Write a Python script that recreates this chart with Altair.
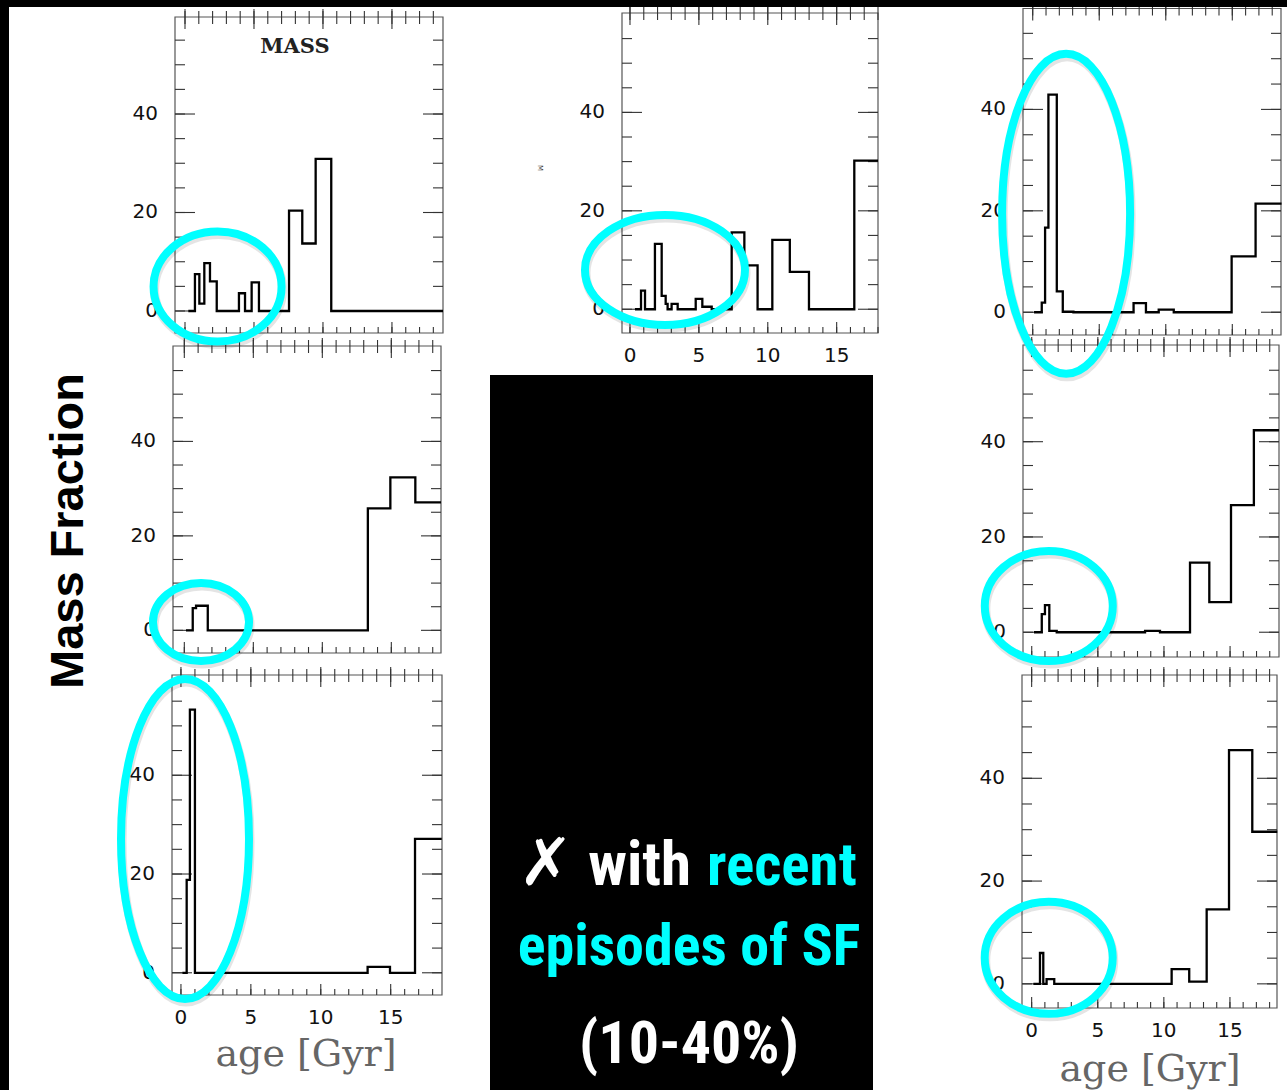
import altair as alt
import pandas as pd

# ---------------------------------------------------------------
# Star-formation histories: bin edges (age, Gyr) and the mass
# fraction (%) formed in each bin, one pair of arrays per galaxy.
# ---------------------------------------------------------------
tl_edges = [0.24, 0.72, 1.04, 1.4, 1.81, 2.3, 3.91, 4.35, 4.83, 5.36, 7.54, 8.5, 9.47, 10.6, 18.7]
tl_mass = [0, 7.5, 1.5, 9.7, 6.0, 0, 3.6, 0, 5.8, 0, 20.4, 13.7, 30.9, 0]

tm_edges = [0.36, 0.8, 1.09, 1.81, 2.3, 2.59, 2.73, 3.02, 3.46, 4.77, 5.25, 5.93, 7.38, 8.3,
            9.26, 10.33, 11.6, 12.99, 16.28, 18.0]
tm_mass = [0, 3.8, 0, 13.3, 2.7, 1.1, 0, 1.1, 0, 2.1, 0.5, 0, 15.6, 8.9, 0, 14.1, 7.6, 0, 30.2]

tr_edges = [0.1, 0.68, 0.93, 1.18, 1.81, 2.26, 3.06, 7.58, 8.51, 9.47, 10.6, 14.95, 16.75, 18.7]
tr_mass = [0, 1.9, 16.7, 42.9, 4.1, 0.1, 0, 1.8, 0, 0.5, 0, 11.0, 21.4]

ml_edges = [0.12, 0.61, 0.85, 1.7, 13.3, 14.93, 16.74, 18.6]
ml_mass = [0, 4.7, 5.2, 0, 25.8, 32.4, 27.1]

mr_edges = [0.17, 0.76, 1.0, 1.33, 1.89, 8.57, 9.7, 11.97, 13.43, 15.07, 16.8, 18.7]
mr_mass = [0, 3.8, 5.7, 0.3, 0, 0.3, 0, 14.6, 6.3, 26.7, 42.4]

bl_edges = [0.1, 0.41, 0.64, 1.0, 13.35, 14.95, 16.74, 18.65]
bl_mass = [0, 18.8, 53.3, 0, 1.2, 0, 27.1]

br_edges = [0.13, 0.63, 0.88, 1.13, 1.71, 10.59, 11.92, 13.24, 14.93, 16.69, 18.58]
br_mass = [0, 6.0, 0, 0.9, 0, 2.85, 0.45, 14.5, 45.5, 29.6]

# axis ticks and labels
x_minor_ticks = list(range(0, 19))
x_major_ticks = [0, 5, 10, 15]
y_minor_ticks = list(range(0, 60, 5))
y_major_ticks = [0, 20, 40]

# highlighted regions: centre (age, mass fraction) and half-axes in px
hl_top_left = (2.36, 4.97, 64, 55)
hl_top_mid = (2.54, 7.98, 80, 55)
hl_top_right = (2.51, 19.4, 64, 160)
hl_mid_left = (1.21, 1.76, 48, 39)
hl_mid_right = (1.29, 5.5, 64, 55)
hl_bot_left = (0.29, 27.1, 64, 160)
hl_bot_right = (1.29, 5.06, 64, 56)

# texts
y_title = "Mass Fraction"
x_title = "age [Gyr]"
panel_title = "MASS"
note_mark = "\u2717"
note_white = "with"
note_cyan = "recent"
note_line2 = "episodes of SF"
note_line3 = "(10-40%)"

CYAN = "#00FFFF"
INK = "#111111"
FRAME = "#555555"
LABEL_FONT = "DejaVu Sans"
NOTE_FONT = "Noto Sans Condensed, Roboto Condensed, DejaVu Sans Condensed, sans-serif"

one_row = pd.DataFrame({"k": [0]})

# panel placement on the page (pixel ranges) and data domains
panels = [
    dict(edges=tl_edges, mass=tl_mass, L=175, R=443, T=17, B=333,
         xd=[-0.725, 18.7], yd=[-4.47, 59.7], xlab=False, hl=hl_top_left),
    dict(edges=tm_edges, mass=tm_mass, L=622, R=878, T=13, B=333,
         xd=[-0.58, 18.0], yd=[-4.83, 60.2], xlab=True, hl=hl_top_mid),
    dict(edges=tr_edges, mass=tr_mass, L=1023, R=1281, T=8.5, B=335,
         xd=[-0.73, 18.66], yd=[-4.49, 59.9], xlab=False, hl=hl_top_right),
    dict(edges=ml_edges, mass=ml_mass, L=173, R=441, T=346, B=653,
         xd=[-0.82, 18.6], yd=[-4.8, 60.2], xlab=False, hl=hl_mid_left),
    dict(edges=mr_edges, mass=mr_mass, L=1023, R=1279, T=345, B=657,
         xd=[-0.66, 18.7], yd=[-5.2, 60.3], xlab=False, hl=hl_mid_right),
    dict(edges=bl_edges, mass=bl_mass, L=172, R=442, T=675, B=995,
         xd=[-0.64, 18.67], yd=[-4.5, 60.3], xlab=True, hl=hl_bot_left),
    dict(edges=br_edges, mass=br_mass, L=1022, R=1277, T=675, B=1008,
         xd=[-0.73, 18.56], yd=[-4.7, 60.1], xlab=True, hl=hl_bot_right),
]


def scales(p):
    xs = alt.Scale(domain=p["xd"], range=[p["L"], p["R"]], nice=False, zero=False)
    ys = alt.Scale(domain=p["yd"], range=[p["B"], p["T"]], nice=False, zero=False)
    return xs, ys


def panel_chart(p):
    xs, ys = scales(p)
    x0, x1 = p["xd"]
    y0, y1 = p["yd"]

    def X(f):
        return alt.X(f, type="quantitative", scale=xs, axis=None)

    def Y(f):
        return alt.Y(f, type="quantitative", scale=ys, axis=None)

    frame_df = pd.DataFrame({"x0": [x0], "x1": [x1], "y0": [y0], "y1": [y1]})
    frame = alt.Chart(frame_df).mark_rect(filled=False, color=FRAME, strokeWidth=1.2).encode(
        x=X("x0"), x2=alt.X2("x1"), y=Y("y0"), y2=alt.Y2("y1"))

    def yt(vals):
        return pd.DataFrame({"v": vals, "x0": x0, "x1": x1})

    def xt(vals):
        return pd.DataFrame({"v": vals, "y0": y0, "y1": y1})

    layers = [frame]
    for vals, ln in ((y_minor_ticks, 10), (y_major_ticks, 20)):
        layers.append(alt.Chart(yt(vals)).mark_rule(color="#333", strokeWidth=1.1, x2Offset=ln)
                      .encode(x=X("x0"), x2=alt.X2("x0"), y=Y("v")))
        layers.append(alt.Chart(yt(vals)).mark_rule(color="#333", strokeWidth=1.1, x2Offset=-ln)
                      .encode(x=X("x1"), x2=alt.X2("x1"), y=Y("v")))
    for vals, up, down in ((x_minor_ticks, 6, 7), (x_major_ticks, 8, 12)):
        layers.append(alt.Chart(xt(vals)).mark_rule(color="#333", strokeWidth=1.1,
                                                    yOffset=-up, y2Offset=down)
                      .encode(x=X("v"), y=Y("y1"), y2=alt.Y2("y1")))
        layers.append(alt.Chart(xt(vals)).mark_rule(color="#333", strokeWidth=1.1,
                                                     y2Offset=-(down - 1))
                      .encode(x=X("v"), y=Y("y0"), y2=alt.Y2("y0")))

    ylab = pd.DataFrame({"v": y_major_ticks, "x0": x0, "t": [str(v) for v in y_major_ticks]})
    layers.append(alt.Chart(ylab).mark_text(align="right", baseline="middle", dx=-17,
                                            font=LABEL_FONT, fontSize=20, color=INK)
                  .encode(x=X("x0"), y=Y("v"), text="t:N"))
    if p["xlab"]:
        xlab = pd.DataFrame({"v": x_major_ticks, "y0": y0, "t": [str(v) for v in x_major_ticks]})
        layers.append(alt.Chart(xlab).mark_text(align="center", baseline="middle", dy=23,
                                                font=LABEL_FONT, fontSize=20, color=INK)
                      .encode(x=X("v"), y=Y("y0"), text="t:N"))

    # step histogram of the star-formation history
    hist = pd.DataFrame({"age": p["edges"], "mf": p["mass"] + [p["mass"][-1]]})
    layers.append(alt.Chart(hist).mark_line(interpolate="step-after", color="#000",
                                            strokeWidth=2.3)
                  .encode(x=X("age"), y=Y("mf")))
    return alt.layer(*layers)


def ellipse_path(rx, ry):
    m = max(rx, ry)
    a, b = rx / m, ry / m
    k = 0.5523
    f = lambda v: f"{v:.4f}"
    return (f"M{f(a)},0 C{f(a)},{f(k*b)} {f(k*a)},{f(b)} 0,{f(b)} "
            f"C{f(-k*a)},{f(b)} {f(-a)},{f(k*b)} {f(-a)},0 "
            f"C{f(-a)},{f(-k*b)} {f(-k*a)},{f(-b)} 0,{f(-b)} "
            f"C{f(k*a)},{f(-b)} {f(a)},{f(-k*b)} {f(a)},0 Z")


def highlight(p):
    xs, ys = scales(p)
    cx, cy, rx, ry = p["hl"]
    df = pd.DataFrame({"age": [cx], "mf": [cy]})
    shape = ellipse_path(rx, ry)
    size = (2 * max(rx, ry)) ** 2
    enc = dict(x=alt.X("age:Q", scale=xs, axis=None), y=alt.Y("mf:Q", scale=ys, axis=None))
    shadow = alt.Chart(df).mark_point(shape=shape, size=size, filled=False, color="#000",
                                      strokeWidth=9, opacity=0.10, yOffset=3, xOffset=1).encode(**enc)
    ring = alt.Chart(df).mark_point(shape=shape, size=size, filled=False, color=CYAN,
                                    strokeWidth=8, opacity=1).encode(**enc)
    return [shadow, ring]


def text_at(txt, x, y, **kw):
    return alt.Chart(one_row).mark_text(text=txt, **kw).encode(x=alt.value(x), y=alt.value(y))


def block(x, x2, y, y2, color="#000"):
    return alt.Chart(one_row).mark_rect(color=color).encode(
        x=alt.value(x), x2=alt.value(x2), y=alt.value(y), y2=alt.value(y2))


layers = [panel_chart(p) for p in panels]

# page decorations: dark borders and the note box
layers += [block(0, 1287, 0, 7), block(0, 9, 0, 1090), block(490, 873, 375, 1090)]

note = dict(font=NOTE_FONT, fontWeight="bold", baseline="alphabetic")
layers += [
    text_at(panel_title, 295, 47, font="DejaVu Serif", fontWeight="bold", fontSize=21,
            color="#222", align="center", baseline="middle"),
    text_at("M", 540, 168, font=LABEL_FONT, fontSize=7, angle=90, color="#333",
            align="center", baseline="middle"),
    text_at(y_title, 69, 531, font="Liberation Sans, Arial, sans-serif", fontWeight="bold",
            fontSize=47, angle=270, color="#000", align="center", baseline="middle"),
    text_at(x_title, 306, 1055, font="DejaVu Serif", fontSize=38, color="#666",
            align="center", baseline="middle"),
    text_at(x_title, 1150, 1070, font="DejaVu Serif", fontSize=38, color="#666",
            align="center", baseline="middle"),
    text_at(note_mark, 546, 885, font="DejaVu Sans", fontWeight="bold", fontSize=66,
            color="#fff", align="center", baseline="alphabetic"),
    text_at(note_white, 691, 885, fontSize=61, color="#fff", align="right", **note),
    text_at(note_cyan, 707, 885, fontSize=59, color=CYAN, align="left", **note),
    text_at(note_line2, 689, 965, fontSize=58, color=CYAN, align="center", **note),
    text_at(note_line3, 689, 1063, fontSize=60, color="#fff", align="center", **note),
]

for p in panels:
    layers += highlight(p)

chart = alt.layer(*layers).resolve_scale(x="independent", y="independent").properties(
    width=1287, height=1090, padding=0, background="white",
    autosize=alt.AutoSizeParams(type="none"),
).configure_view(stroke=None)

chart.save("out.html", embed_options={"renderer": "svg", "actions": False})
